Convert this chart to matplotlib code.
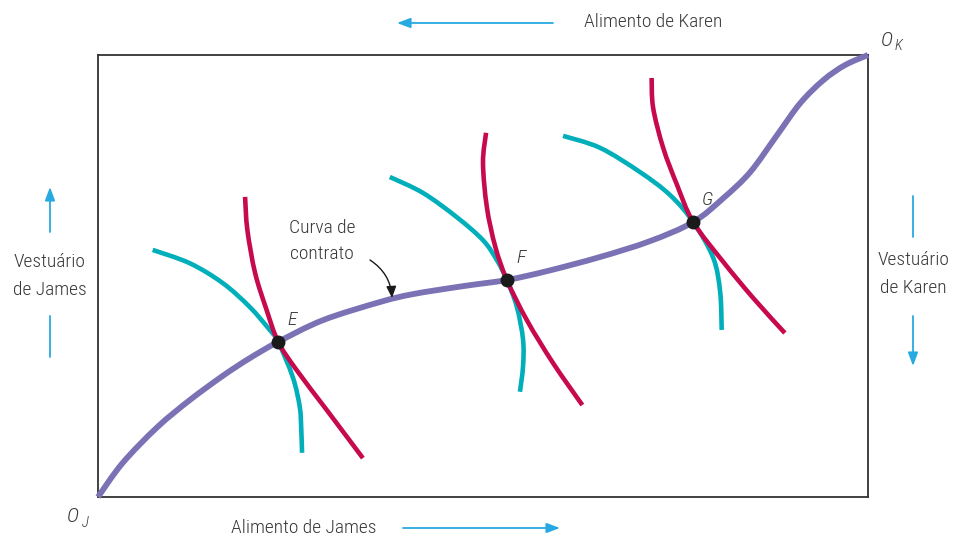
import matplotlib
matplotlib.use("Agg")
import matplotlib.pyplot as plt
from matplotlib.path import Path
from matplotlib.patches import PathPatch, FancyArrowPatch

# Edgeworth box, both axes in box units (0..10)
contract_x = [0, 0.32, 0.77, 1.19, 1.62, 1.97, 2.34, 2.92, 3.66, 4.09, 4.74, 5.31,
              5.83, 6.52, 7.17, 7.73, 8.12, 8.47, 8.82, 9.12, 9.42, 9.70, 10]
contract_y = [0, 0.77, 1.58, 2.19, 2.74, 3.14, 3.51, 4.00, 4.41, 4.59, 4.77, 4.91,
              5.11, 5.43, 5.79, 6.22, 6.76, 7.35, 8.19, 8.91, 9.43, 9.77, 10]

# James's indifference curves (teal)
james_E_x = [0.71, 1.19, 1.62, 1.97, 2.23, 2.34, 2.53, 2.62, 2.64, 2.65]
james_E_y = [5.59, 5.29, 4.84, 4.30, 3.78, 3.51, 2.71, 2.04, 1.52, 1.00]
james_F_x = [3.79, 4.22, 4.66, 5.00, 5.18, 5.31, 5.44, 5.52, 5.52, 5.48]
james_F_y = [7.24, 6.88, 6.33, 5.81, 5.36, 4.91, 4.30, 3.56, 2.96, 2.38]
james_G_x = [6.04, 6.52, 7.04, 7.43, 7.73, 7.99, 8.08, 8.10]
james_G_y = [8.17, 7.90, 7.35, 6.83, 6.22, 5.41, 4.64, 3.78]

# Karen's indifference curves (red)
karen_E_x = [1.91, 1.94, 2.04, 2.19, 2.34, 2.58, 2.97, 3.44]
karen_E_y = [6.79, 6.04, 5.07, 4.23, 3.51, 2.87, 1.97, 0.88]
karen_F_x = [5.04, 5.00, 5.05, 5.16, 5.31, 5.57, 5.91, 6.29]
karen_F_y = [8.24, 7.56, 6.56, 5.66, 4.91, 4.00, 3.03, 2.08]
karen_G_x = [7.19, 7.21, 7.34, 7.52, 7.73, 8.12, 8.51, 8.92]
karen_G_y = [9.48, 8.80, 7.90, 7.06, 6.22, 5.32, 4.50, 3.71]

point_labels = ["E", "F", "G"]
point_x = [2.34, 5.31, 7.73]
point_y = [3.51, 4.91, 6.22]

W, H = 956, 539
plt.rcParams['font.family'] = ['Roboto Condensed', 'Archivo Narrow', 'DejaVu Sans']
TXT = '#383838'
TEAL = '#00AFBA'
RED = '#C70A4E'
PURPLE = '#7B72B6'
BLUE = '#27A9E1'
FS = 14


def fp(x, y):
    # pixel (from top-left) -> figure fraction
    return (x / W, 1 - y / H)


def smooth_path(xs, ys):
    # Catmull-Rom through the read points, as cubic Bezier segments
    pts = list(zip(xs, ys))
    verts = [pts[0]]
    codes = [Path.MOVETO]
    n = len(pts)
    for i in range(n - 1):
        p0 = pts[max(i - 1, 0)]
        p1 = pts[i]
        p2 = pts[i + 1]
        p3 = pts[min(i + 2, n - 1)]
        c1 = (p1[0] + (p2[0] - p0[0]) / 6, p1[1] + (p2[1] - p0[1]) / 6)
        c2 = (p2[0] - (p3[0] - p1[0]) / 6, p2[1] - (p3[1] - p1[1]) / 6)
        verts += [c1, c2, p2]
        codes += [Path.CURVE4] * 3
    return Path(verts, codes)


def draw_curve(ax, xs, ys, color, lw, z):
    ax.add_patch(PathPatch(smooth_path(xs, ys), fill=False, edgecolor=color, lw=lw,
                           capstyle='butt', joinstyle='round', zorder=z, clip_on=False))


fig = plt.figure(figsize=(W / 100, H / 100), dpi=100)
ax = fig.add_axes([98 / W, 42 / H, 770 / W, 442 / H])
ax.set_xlim(0, 10)
ax.set_ylim(0, 10)
ax.set_xticks([])
ax.set_yticks([])
for s in ax.spines.values():
    s.set_color('#333333')
    s.set_linewidth(1.3)

for xs, ys in [(james_E_x, james_E_y), (james_F_x, james_F_y), (james_G_x, james_G_y)]:
    draw_curve(ax, xs, ys, TEAL, 3.3, 2)
for xs, ys in [(karen_E_x, karen_E_y), (karen_F_x, karen_F_y), (karen_G_x, karen_G_y)]:
    draw_curve(ax, xs, ys, RED, 3.3, 3)
draw_curve(ax, contract_x, contract_y, PURPLE, 4.2, 4)
ax.plot(point_x, point_y, 'o', color='#1a1a1a', ms=9, zorder=5)

for lab, x, y in zip(point_labels, point_x, point_y):
    ax.annotate(lab, (x, y), xytext=(10, 16), textcoords='offset points',
                fontsize=FS, style='italic', fontweight='light', color=TXT,
                ha='center', va='center')

# contract-curve label with curved arrow
fig.text(*fp(322, 241), "Curva de\ncontrato", fontsize=FS, fontweight='light', color=TXT,
         ha='center', va='center', linespacing=1.6)
fig.add_artist(FancyArrowPatch(
    fp(370, 260), fp(392, 298), transform=fig.transFigure,
    arrowstyle='-|>,head_length=7,head_width=3', connectionstyle='arc3,rad=-0.25',
    color='#1a1a1a', lw=1.0, shrinkA=0, shrinkB=0))

# outside labels
fig.text(*fp(653, 22), "Alimento de Karen", fontsize=FS, fontweight='light', color=TXT,
         ha='center', va='center')
fig.text(*fp(304, 528), "Alimento de James", fontsize=FS, fontweight='light', color=TXT,
         ha='center', va='center')
fig.text(*fp(50, 276), "Vestuário\nde James", fontsize=FS, fontweight='light', color=TXT,
         ha='center', va='center', linespacing=1.65)
fig.text(*fp(913, 274), "Vestuário\nde Karen", fontsize=FS, fontweight='light', color=TXT,
         ha='center', va='center', linespacing=1.65)

fig.text(*fp(887, 40), "O", fontsize=15, style='italic', fontweight='light', color=TXT,
         ha='center', va='center')
fig.text(*fp(898, 46), "K", fontsize=10.5, style='italic', fontweight='light', color=TXT,
         ha='center', va='center')
fig.text(*fp(73, 517), "O", fontsize=15, style='italic', fontweight='light', color=TXT,
         ha='center', va='center')
fig.text(*fp(85, 523), "J", fontsize=10.5, style='italic', fontweight='light', color=TXT,
         ha='center', va='center')


def arrow(p0, p1, head=True):
    style = '-|>,head_length=8,head_width=3' if head else '-'
    fig.add_artist(FancyArrowPatch(
        fp(*p0), fp(*p1), transform=fig.transFigure, arrowstyle=style,
        color=BLUE, lw=1.3, shrinkA=0, shrinkB=0))


arrow((553, 23), (397, 23))
arrow((403, 528), (560, 528))
arrow((50, 232), (50, 187))
arrow((50, 316), (50, 357), head=False)
arrow((913, 196), (913, 237), head=False)
arrow((913, 316), (913, 366))

fig.savefig("out.png", dpi=100)
